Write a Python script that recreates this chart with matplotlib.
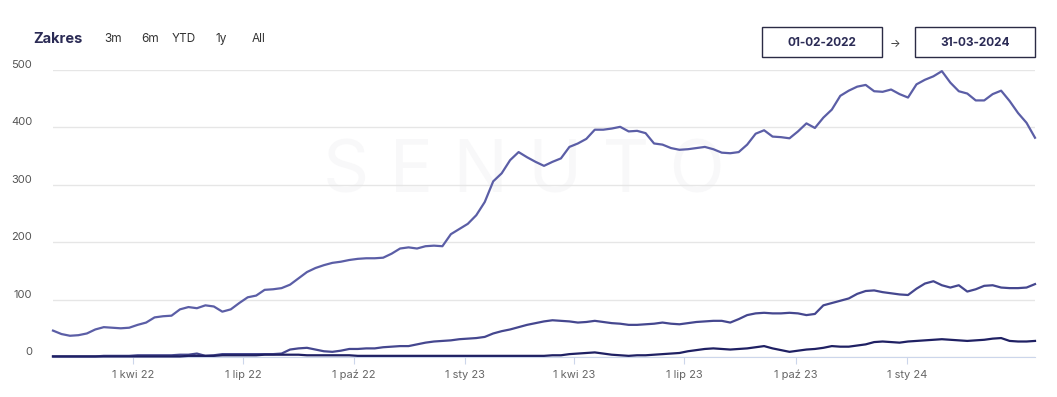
import matplotlib.pyplot as plt
import matplotlib.patches as mpatches
import pandas as pd

# weekly samples
start_date = "2022-01-25"

top_values = [46, 40, 37, 38, 41, 48, 52, 51, 50, 51, 56, 60, 69, 71, 72, 83, 87, 85, 90, 88,
              79, 83, 94, 104, 107, 117, 118, 120, 126, 137, 148, 155, 160, 164, 166, 169, 171, 172, 172, 173,
              180, 189, 191, 189, 193, 194, 193, 214, 223, 232, 247, 270, 306, 320, 343, 357, 348, 340, 333, 340,
              346, 366, 372, 380, 396, 396, 398, 401, 393, 394, 390, 372, 370, 364, 361, 362, 364, 366, 362, 356,
              355, 357, 370, 389, 395, 384, 383, 381, 393, 407, 399, 417, 431, 455, 464, 471, 474, 463, 462, 466,
              458, 452, 475, 483, 489, 498, 478, 463, 459, 447, 447, 458, 464, 446, 425, 408, 382]

mid_values = [1, 1, 1, 1, 1, 1, 2, 2, 2, 2, 3, 3, 3, 3, 3, 4, 4, 6, 2, 3,
              5, 5, 5, 5, 5, 5, 5, 6, 13, 15, 16, 13, 10, 9, 11, 14, 14, 15, 15, 17,
              18, 19, 19, 22, 25, 27, 28, 29, 31, 32, 33, 35, 41, 45, 48, 52, 56, 59, 62, 64,
              63, 62, 60, 61, 63, 61, 59, 58, 56, 56, 57, 58, 60, 58, 57, 59, 61, 62, 63, 63,
              60, 66, 73, 76, 77, 76, 76, 77, 76, 73, 75, 90, 94, 98, 102, 110, 115, 116, 113, 111,
              109, 108, 119, 128, 132, 125, 121, 125, 114, 118, 124, 125, 121, 120, 120, 121, 127]

low_values = [1, 1, 1, 1, 1, 1, 1, 1, 1, 1, 1, 1, 1, 1, 1, 1, 2, 2, 2, 2,
              3, 3, 3, 3, 3, 4, 4, 4, 4, 4, 3, 3, 3, 3, 3, 3, 2, 2, 2, 2,
              2, 2, 2, 2, 2, 2, 2, 2, 2, 2, 2, 2, 2, 2, 2, 2, 2, 2, 2, 3,
              3, 5, 6, 7, 8, 6, 4, 3, 2, 3, 3, 4, 5, 6, 7, 10, 12, 14, 15, 14,
              13, 14, 15, 17, 19, 15, 12, 9, 11, 13, 14, 16, 19, 18, 18, 20, 22, 26, 27, 26,
              25, 27, 28, 29, 30, 31, 30, 29, 28, 29, 30, 32, 33, 28, 27, 27, 28]

tick_dates = ["2022-04-01", "2022-07-01", "2022-10-01", "2023-01-01",
              "2023-04-01", "2023-07-01", "2023-10-01", "2024-01-01"]
tick_labels = ["1 kwi 22", "1 lip 22", "1 paź 22", "1 sty 23",
               "1 kwi 23", "1 lip 23", "1 paź 23", "1 sty 24"]
y_ticks = [0, 100, 200, 300, 400, 500]

range_buttons = ["3m", "6m", "YTD", "1y", "All"]
date_from = "01-02-2022"
date_to = "31-03-2024"

plt.rcParams['font.family'] = ['Inter', 'DejaVu Sans']

dates = pd.date_range(start_date, periods=len(top_values), freq="7D")

W, H = 1057, 397
fig = plt.figure(figsize=(W / 100, H / 100), dpi=100)
ax = fig.add_axes([53 / W, 1 - 357 / H, (1035 - 53) / W, (357 - 70) / H])

# faint watermark
ax.text(0.48, 0.64, "S E N U T O", transform=ax.transAxes, ha='center', va='center',
        fontsize=52, color='#f8f8f9', zorder=0)

ax.plot(dates, top_values, color='#5b5ea6', lw=1.6, clip_on=False, zorder=3)
ax.plot(dates, mid_values, color='#45478f', lw=1.6, clip_on=False, zorder=3)
ax.plot(dates, low_values, color='#1f2063', lw=1.6, clip_on=False, zorder=4)

ax.set_xlim(dates[0], dates[-1])
ax.set_ylim(0, 500)
ax.set_yticks(y_ticks)
ax.set_yticklabels([str(v) for v in y_ticks])
ax.set_xticks(pd.to_datetime(tick_dates))
ax.set_xticklabels(tick_labels)

ax.grid(axis='y', color='#e6e6e6', lw=1)
ax.set_axisbelow(True)
for side in ['top', 'right', 'left']:
    ax.spines[side].set_visible(False)
ax.spines['bottom'].set_color('#ccd6eb')
ax.tick_params(axis='y', length=0, pad=15, labelsize=8, labelcolor='#555555')
ax.tick_params(axis='x', length=5, color='#ccd6eb', pad=4, labelsize=8, labelcolor='#666666')
plt.setp(ax.get_yticklabels(), va='bottom')

# header: range selector
fig.text(33 / W, 1 - 39 / H, "Zakres", fontsize=10.5, fontweight='bold', color='#2b2b55', va='center')
for label, cx in zip(range_buttons, [113, 150, 184, 221, 259]):
    fig.text(cx / W, 1 - 39 / H, label, fontsize=8.5, color='#333333', ha='center', va='center')

# date range boxes
for x0, txt in [(762, date_from), (915, date_to)]:
    fig.patches.append(mpatches.Rectangle((x0 / W, 1 - 57 / H), 120 / W, 30 / H,
                                          transform=fig.transFigure, fill=False,
                                          edgecolor='#2b2b45', lw=1))
    fig.text((x0 + 60) / W, 1 - 43 / H, txt, fontsize=8.5, fontweight='bold',
             color='#2b2b55', ha='center', va='center')
fig.text(895 / W, 1 - 44 / H, "→", fontsize=8, color='#333333', ha='center', va='center')

fig.savefig("out.png", dpi=100)
